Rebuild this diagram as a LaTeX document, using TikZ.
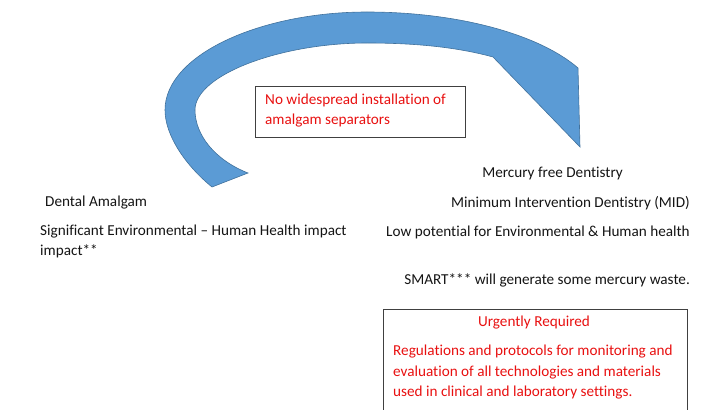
\documentclass[tikz,border=0pt]{standalone}
\usepackage{fontspec}
\setmainfont[Ligatures={NoCommon}]{Carlito}
\definecolor{arrowfill}{RGB}{91,155,213}
\definecolor{arrowline}{RGB}{65,113,156}
\definecolor{redtxt}{RGB}{232,16,16}
\definecolor{boxline}{RGB}{64,64,64}
\definecolor{txtcol}{RGB}{20,20,20}
\begin{document}
\begin{tikzpicture}[x=1pt,y=-1pt,
  txt/.style={inner sep=0pt,font=\fontsize{15.2}{20}\selectfont,text=txtcol},
  redbox/.style={draw=boxline,line width=0.8pt,inner sep=0pt},
  rtxt/.style={inner sep=0pt,font=\fontsize{15.2}{20}\selectfont,text=redtxt,align=left}]
\useasboundingbox (0,0) rectangle (703,409);
\clip (0,0) rectangle (703,409);
% curved arrow
\fill[arrowfill,draw=arrowline,line width=0.6pt,line join=miter]
  (212,187) .. controls (185,165) and (165,135) .. (165,110)
  .. controls (165,55) and (260,12) .. (367,12)
  .. controls (460,12) and (540,35) .. (578,68)
  -- (580,147) -- (493,57)
  .. controls (460,48) and (420,43) .. (367,43)
  .. controls (280,43) and (195,75) .. (195,110)
  .. controls (195,135) and (215,160) .. (248,173) -- cycle;
% top box
\node[redbox,minimum width=210pt,minimum height=51pt,anchor=north west] (sep) at (255,86) {};
\node[rtxt,anchor=west] (septxt) at (265,111) {No widespread installation of\\amalgam separators};
% left texts
\node[txt,anchor=west] (amal) at (45,203) {Dental Amalgam};
\node[txt,anchor=west,align=left] (sig) at (40,241) {Significant Environmental – Human Health impact\\impact**};
% right texts
\node[txt,anchor=east] (merc) at (623,173) {Mercury free Dentistry};
\node[txt,anchor=east] (mid) at (690,203) {Minimum Intervention Dentistry (MID)};
\node[txt,anchor=east] (low) at (690,232) {Low potential for Environmental \& Human health};
\node[txt,anchor=east] (smart) at (690,280) {SMART*** will generate some mercury waste.};
% bottom box
\node[redbox,minimum width=304pt,minimum height=120pt,anchor=north west] (req) at (383,309) {};
\node[rtxt,anchor=center] (reqt) at (534,323) {Urgently Required};
\node[rtxt,anchor=north west,font=\fontsize{15.2}{20.5}\selectfont] (regs) at (393,345) {Regulations and protocols for monitoring and\\evaluation of all technologies and materials\\used in clinical and laboratory settings.};
\end{tikzpicture}
\end{document}
